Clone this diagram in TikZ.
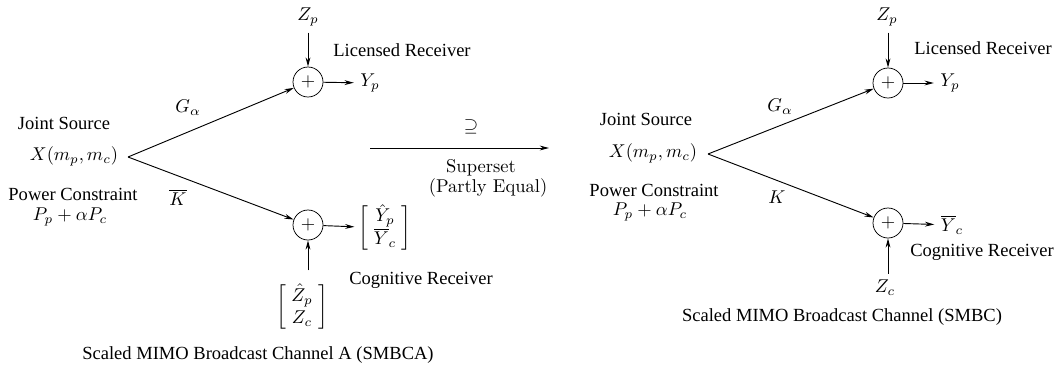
\documentclass[tikz,border=0pt]{standalone}
\usepackage{fontspec}
\usepackage{amsmath}
\usepackage{amssymb}
\newfontfamily\tnr{Liberation Serif}
\usetikzlibrary{arrows.meta}

\begin{document}
\begin{tikzpicture}[x=0.54pt,y=-0.54pt,
    txt/.style={font=\tnr},
    vec/.style={inner sep=2pt,execute at begin node={\setlength{\arraycolsep}{3pt}}},
    adder/.style={draw,circle,minimum size=16.2pt,inner sep=0pt},
    sig/.style={line width=0.5pt,-{Stealth[length=5pt,width=2.6pt]}}]

\useasboundingbox (0,0) rectangle (1062,381);

% ============================================
% 1. SMBCA
% ============================================
\begin{scope}[shift={(0,0)}]
    \node[txt] (jsA) at (64,123) {Joint Source};
    \node (srcA) at (74,156) {$X(m_p,m_c)$};
    \node[txt] (pcA) at (73,194) {Power Constraint};
    \node (powA) at (70,217) {$P_p+\alpha P_c$};
    \coordinate (forkA) at (128,157);

    % Licensed Receiver
    \node[adder] (addpA) at (308,82) {$+$};
    \node (zpA) at (308,17) {$Z_p$};
    \node (ypA) at (370,83) {$Y_p$};
    \node[txt] (lrA) at (402,50) {Licensed Receiver};
    \draw[sig] (zpA) -- (addpA);
    \draw[sig] (addpA) -- (ypA);

    % Cognitive Receiver
    \node[adder] (addcA) at (308,225) {$+$};
    \node[vec] (ymatA) at (385,228) {$\left[\begin{array}{c}\hat{Y}_p\\ \overline{Y}_c\end{array}\right]$};
    \node[vec] (zmatA) at (302,307) {$\left[\begin{array}{c}\hat{Z}_p\\ Z_c\end{array}\right]$};
    \node[txt] (crA) at (421,280) {Cognitive Receiver};
    \draw[sig] (addcA) -- (ymatA);
    \draw[sig,shorten <=5pt] (zmatA.north -| addcA) -- (addcA);

    % Kanaele
    \draw[sig] (forkA) -- (addpA);
    \draw[sig] (forkA) -- (addcA);
    \node (gA) at (188,108) {$G_\alpha$};
    \node (kA) at (178,197) {$\overline{K}$};

    \node[txt] (capA) at (258,355) {Scaled MIMO Broadcast Channel A (SMBCA)};
\end{scope}

% ============================================
% 2. SUPERSET
% ============================================
\coordinate (supL) at (370,148);
\coordinate (supR) at (549,148);
\draw[sig] (supL) -- (supR);
\node (supset) at (471,127) {$\supseteq$};
\node (suptxt) at (481,168) {Superset};
\node (eqtxt) at (488,188) {(Partly Equal)};

% ============================================
% 3. SMBC
% ============================================
\begin{scope}[shift={(580,0)}]
    \node[txt] (jsB) at (66,119) {Joint Source};
    \node (srcB) at (73,153) {$X(m_p,m_c)$};
    \node[txt] (pcB) at (74,190) {Power Constraint};
    \node (powB) at (70,212) {$P_p+\alpha P_c$};
    \coordinate (forkB) at (128,154);

    % Licensed Receiver
    \node[adder] (addpB) at (308,83) {$+$};
    \node (zpB) at (307,17) {$Z_p$};
    \node (ypB) at (370,83) {$Y_p$};
    \node[txt] (lrB) at (403,48) {Licensed Receiver};
    \draw[sig] (zpB.south -| addpB) -- (addpB);
    \draw[sig] (addpB) -- (ypB);

    % Cognitive Receiver
    \node[adder] (addcB) at (308,223) {$+$};
    \node (ycB) at (372,225) {$\overline{Y}_c$};
    \node (zcB) at (305,288) {$Z_c$};
    \node[txt] (crB) at (402,252) {Cognitive Receiver};
    \draw[sig] (addcB) -- (ycB);
    \draw[sig] (zcB.north -| addcB) -- (addcB);

    % Kanaele
    \draw[sig] (forkB) -- (addpB);
    \draw[sig] (forkB) -- (addcB);
    \node (gB) at (200,107) {$G_\alpha$};
    \node (kB) at (197,197) {$K$};

    \node[txt] (capB) at (262,317) {Scaled MIMO Broadcast Channel (SMBC)};
\end{scope}

\end{tikzpicture}
\end{document}
